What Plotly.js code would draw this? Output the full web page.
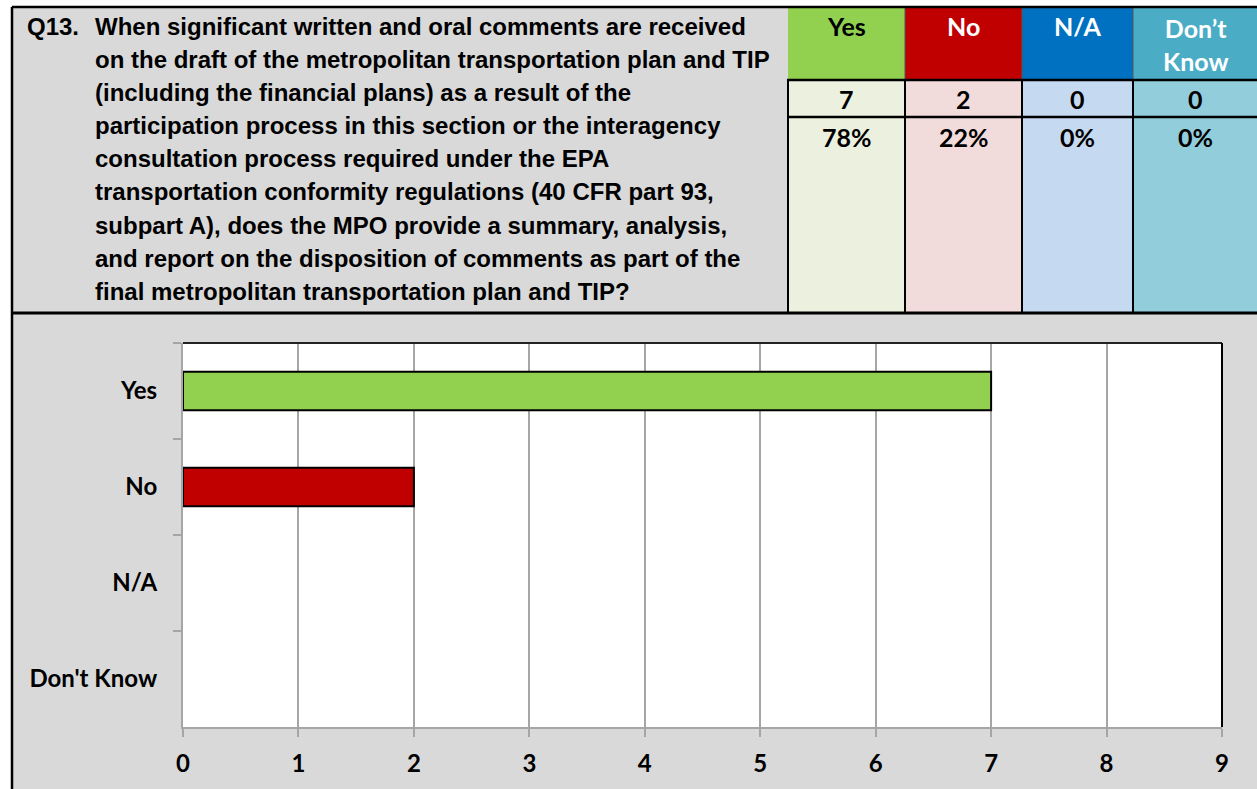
<!DOCTYPE html>
<html>
<head>
<meta charset="utf-8">
<script src="https://cdn.plot.ly/plotly-3.0.1.min.js"></script>
<style>html,body{margin:0;padding:0;background:#fff;}#chart{width:1257px;height:789px;}</style>
</head>
<body>
<div id="chart"></div>
<script>
// ---- data ----
const categories = ["Yes", "No", "N/A", "Don't Know"];
const counts = [7, 2, 0, 0];
const percents = [78, 22, 0, 0];
const headerLabels = ["Yes", "No", "N/A", "Don’t<br>Know"];
const questionNumber = "Q13.";
const questionLines = [
  "When significant written and oral comments are received",
  "on the draft of the metropolitan transportation plan and TIP",
  "(including the financial plans) as a result of the",
  "participation process in this section or the interagency",
  "consultation process required under the EPA",
  "transportation conformity regulations (40 CFR part 93,",
  "subpart A), does the MPO provide a summary, analysis,",
  "and report on the disposition of comments as part of the",
  "final metropolitan transportation plan and TIP?"
];

// ---- styles ----
const barColors = ["#92d050", "#c00000", "#0070c0", "#4bacc6"];
const barLineWidths = [2, 2, 0, 0];
const headColors = ["#92d050", "#c00000", "#0070c0", "#4bacc6"];
const headTextColors = ["#000000", "#ffffff", "#ffffff", "#ffffff"];
const lightColors = ["#ebf1de", "#f2dcdb", "#c5d9f1", "#92cddc"];
const colEdges = [788, 905, 1022, 1133, 1257];
const W = 1257, Hh = 789;
const L = 183, R = 1222, T = 343, B = 727;
const px = x => (x - L) / (R - L);
const py = y => (B - y) / (B - T);
const GRAY = "#a6a6a6";
const lato = (size, color) => ({family: "Lato, 'Open Sans', sans-serif", size: size, color: color || "#000", weight: "bold"});
const narrow = {family: "'Liberation Sans Narrow', 'Arial Narrow', 'Liberation Sans', sans-serif", size: 24, color: "#000", weight: "bold"};

const shapes = [];
const annotations = [];
function rect(x0, y0, x1, y1, fill, layer) {
  shapes.push({type: "rect", xref: "paper", yref: "paper", x0: px(x0), x1: px(x1), y0: py(y1), y1: py(y0),
    fillcolor: fill, line: {width: 0}, layer: layer || "below"});
}
function line(x0, y0, x1, y1, color, width) {
  shapes.push({type: "line", xref: "paper", yref: "paper", x0: px(x0), x1: px(x1), y0: py(y0), y1: py(y1),
    line: {color: color, width: width}, layer: "above"});
}
function text(t, x, y, font, xanchor) {
  annotations.push({text: t, xref: "paper", yref: "paper", x: px(x), y: py(y), showarrow: false,
    xanchor: xanchor || "center", yanchor: "middle", font: font, align: xanchor === "left" ? "left" : "center",
    borderpad: 0});
}

// white margins
rect(0, 0, W, 6, "#ffffff");
rect(0, 0, 11, Hh, "#ffffff");
// table cells
for (let i = 0; i < 4; i++) {
  rect(colEdges[i], 7, colEdges[i + 1], 80, headColors[i]);
  rect(colEdges[i], 80, colEdges[i + 1], 313, lightColors[i]);
  text(headerLabels[i], (colEdges[i] + colEdges[i + 1]) / 2, i === 3 ? 44 : 26, lato(25, headTextColors[i]));
  text(String(counts[i]), (colEdges[i] + colEdges[i + 1]) / 2, 99, lato(25));
  text(percents[i] + "%", (colEdges[i] + colEdges[i + 1]) / 2, 137, lato(25));
}
// table lines
for (let i = 0; i < 4; i++) {
  line(colEdges[i], 80, colEdges[i], 313, "#000", 2);
  if (i > 0) line(colEdges[i], 7, colEdges[i], 80, "#555", 1);
}
line(787, 80, W, 80, "#000", 2.5);
line(787, 117, W, 117, "#000", 2.5);
// outer borders
line(12, 7, W, 7, "#000", 2.5);
line(12, 7, 12, Hh, "#000", 2.5);
line(12, 313, W, 313, "#000", 3);
// question text
text(questionNumber, 26, 26, narrow, "left");
questionLines.forEach((s, k) => text(s, 94, 26 + k * 33.2, narrow, "left"));
// plot frame top/right
shapes.push({type: "line", xref: "paper", yref: "paper", x0: 0, x1: 1, y0: 1, y1: 1, line: {color: "#222", width: 2}});
shapes.push({type: "line", xref: "paper", yref: "paper", x0: 1, x1: 1, y0: 0, y1: 1, line: {color: "#000", width: 2}});

const trace = {
  type: "bar", orientation: "h", y: categories, x: counts, width: 0.4,
  marker: {color: barColors, line: {color: "#000", width: barLineWidths}},
  hoverinfo: "skip"
};

const layout = {
  width: W, height: Hh,
  paper_bgcolor: "#d9d9d9", plot_bgcolor: "#ffffff",
  margin: {l: L, r: W - R, t: T, b: Hh - B, pad: 0},
  showlegend: false,
  xaxis: {range: [0, 9], tick0: 0, dtick: 1, showgrid: true, gridcolor: GRAY, gridwidth: 2, zeroline: false,
    showline: true, linecolor: GRAY, linewidth: 2, ticks: "outside", ticklen: 8, tickwidth: 2, tickcolor: GRAY,
    tickfont: lato(24), ticklabelstandoff: 6, fixedrange: true},
  yaxis: {type: "category", categoryorder: "array", categoryarray: categories, autorange: "reversed",
    showgrid: false, zeroline: false, showline: true, linecolor: GRAY, linewidth: 2,
    ticks: "outside", tickson: "boundaries", ticklen: 8, tickwidth: 2, tickcolor: GRAY,
    tickfont: lato(24), ticklabelstandoff: 19, fixedrange: true},
  shapes: shapes,
  annotations: annotations
};

Plotly.newPlot("chart", [trace], layout, {displayModeBar: false, staticPlot: true});
</script>
</body>
</html>
